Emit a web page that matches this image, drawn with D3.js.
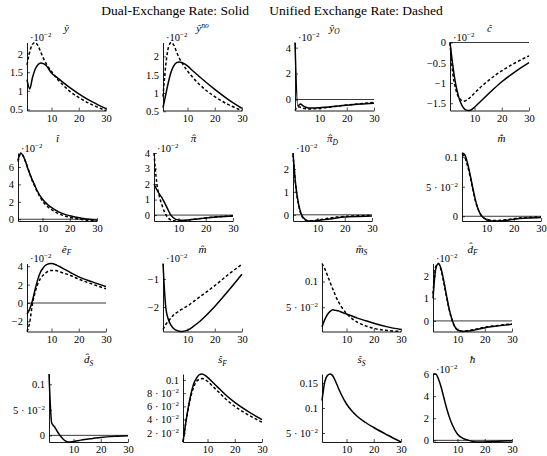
<!DOCTYPE html>
<html><head><meta charset="utf-8">
<script src="https://cdn.jsdelivr.net/npm/d3@7"></script>
<style>
body{margin:0;background:#fff}
</style>
</head><body>
<svg id="chart" width="547" height="456" font-family="'Liberation Serif','Times New Roman','DejaVu Serif',serif"></svg>
<script>
// ---------- data ----------
const periods = [1,2,3,4,5,6,7,8,10,12,14,17,20,25,30];
const xTickValues = [10,20,30];

const yHatSolid   = [1.3,1.05,1.35,1.58,1.70,1.75,1.73,1.68,1.48,1.36,1.24,1.07,0.92,0.70,0.52];
const yHatDashed  = [1.7,2.05,2.25,2.3,2.22,2.05,1.88,1.74,1.52,1.33,1.17,0.97,0.82,0.62,0.47];
const yNoSolid    = [0.6,0.95,1.3,1.58,1.75,1.83,1.85,1.83,1.74,1.6,1.47,1.28,1.1,0.82,0.58];
const yNoDashed   = [0.9,1.75,2.25,2.38,2.3,2.12,1.95,1.82,1.6,1.42,1.26,1.06,0.9,0.68,0.52];
const yOSolid     = [4.4,-0.5,-0.35,-0.5,-0.6,-0.65,-0.66,-0.66,-0.63,-0.6,-0.56,-0.5,-0.44,-0.35,-0.28];
const yODashed    = [-0.85,-0.55,-0.6,-0.68,-0.72,-0.73,-0.73,-0.72,-0.68,-0.63,-0.58,-0.5,-0.43,-0.32,-0.22];
const cSolid      = [0,-0.55,-1.0,-1.3,-1.5,-1.62,-1.67,-1.68,-1.6,-1.47,-1.34,-1.15,-0.97,-0.72,-0.5];
const cDashed     = [0,-0.75,-1.12,-1.33,-1.42,-1.45,-1.43,-1.38,-1.25,-1.12,-1.0,-0.84,-0.7,-0.5,-0.33];

const iSolid      = [6.8,7.6,7.2,6.4,5.5,4.7,4.0,3.3,2.3,1.65,1.2,0.7,0.4,0.1,-0.1];
const iDashed     = [6.6,7.5,7.2,6.4,5.5,4.6,3.9,3.2,2.1,1.4,0.95,0.5,0.22,-0.05,-0.2];
const piSolid     = [2.0,1.65,1.35,1.1,0.75,0.4,0.05,-0.15,-0.32,-0.34,-0.31,-0.25,-0.19,-0.11,-0.06];
const piDashed    = [4.0,2.1,1.2,0.6,0.15,-0.15,-0.3,-0.37,-0.38,-0.34,-0.3,-0.24,-0.18,-0.1,-0.05];
const piDSolid    = [2.7,1.3,0.5,0.05,-0.15,-0.24,-0.27,-0.27,-0.25,-0.22,-0.19,-0.14,-0.1,-0.07,-0.05];
const piDDashed   = [2.65,1.25,0.45,0.0,-0.18,-0.25,-0.27,-0.26,-0.23,-0.19,-0.15,-0.1,-0.07,-0.04,-0.03];
const mDotSolid   = [0.107,0.104,0.09,0.07,0.047,0.026,0.011,0.002,-0.006,-0.008,-0.008,-0.007,-0.005,-0.003,-0.002];
const mDotDashed  = [0.105,0.1,0.086,0.067,0.045,0.025,0.011,0.002,-0.005,-0.007,-0.007,-0.006,-0.004,-0.002,-0.001];

const eFSolid     = [-1.2,-0.65,0.25,1.5,2.6,3.4,3.85,4.15,4.3,4.1,3.8,3.3,2.85,2.3,1.8];
const eFDashed    = [-3.1,-2.1,-0.1,1.2,2.1,2.7,3.05,3.3,3.55,3.5,3.3,3.0,2.6,2.05,1.55];
const mSolid      = [-0.45,-2.0,-2.45,-2.65,-2.77,-2.83,-2.86,-2.87,-2.82,-2.7,-2.55,-2.28,-1.98,-1.42,-0.83];
const mDashed     = [-2.8,-2.62,-2.5,-2.38,-2.27,-2.2,-2.13,-2.07,-1.96,-1.82,-1.67,-1.46,-1.24,-0.84,-0.48];
const mSSolid     = [0.012,0.026,0.036,0.042,0.045,0.044,0.043,0.041,0.037,0.033,0.029,0.024,0.019,0.012,0.007];
const mSDashed    = [0.135,0.125,0.112,0.098,0.085,0.072,0.061,0.052,0.038,0.028,0.021,0.014,0.009,0.005,0.003];
const dFSolid     = [1.0,2.3,2.55,2.3,1.75,1.1,0.5,0.05,-0.4,-0.47,-0.45,-0.38,-0.3,-0.22,-0.15];
const dFDashed    = [1.2,2.4,2.55,2.25,1.68,1.05,0.47,0.03,-0.4,-0.46,-0.43,-0.36,-0.28,-0.2,-0.13];

const dSSolid     = [0.12,0.024,0.017,0.008,0.0,-0.006,-0.011,-0.013,-0.012,-0.01,-0.008,-0.006,-0.004,-0.002,-0.001];
const sFSolid     = [0.006,0.035,0.06,0.08,0.095,0.103,0.108,0.109,0.104,0.096,0.088,0.076,0.066,0.052,0.04];
const sFDashed    = [0.006,0.034,0.058,0.077,0.09,0.098,0.101,0.102,0.098,0.09,0.082,0.07,0.06,0.047,0.036];
const sSSolid     = [0.115,0.152,0.165,0.168,0.164,0.153,0.14,0.128,0.108,0.094,0.083,0.071,0.061,0.046,0.032];
const hSolid      = [6.0,6.0,5.55,4.8,3.85,2.9,2.1,1.45,0.55,0.18,0.0,-0.15,-0.15,-0.08,-0.04];

// tick values and labels
const yHatTicks = [0.5,1,1.5,2],          yHatLabels = ["0.5","1","1.5","2"];
const yOTicks = [0,2,4],                  yOLabels = ["0","2","4"];
const cTicks = [-1.5,-1,-0.5,0],          cLabels = ["\u22121.5","\u22121","\u22120.5","0"];
const iTicks = [0,2,4,6],                 iLabels = ["0","2","4","6"];
const piTicks = [0,1,2,3,4],              piLabels = ["0","1","2","3","4"];
const piDTicks = [0,1,2],                 piDLabels = ["0","1","2"];
const mDotTicks = [0,0.05,0.1],           mDotLabels = ["0","5 \u00b7 10^\u22122","0.1"];
const eFTicks = [-2,0,2,4],               eFLabels = ["\u22122","0","2","4"];
const mTicks = [-2,-1],                   mLabels = ["\u22122","\u22121"];
const mSTicks = [0.05,0.1],               mSLabels = ["5 \u00b7 10^\u22122","0.1"];
const dFTicks = [0,1,2],                  dFLabels = ["0","1","2"];
const dSTicks = [0,0.05,0.1],             dSLabels = ["0","5 \u00b7 10^\u22122","0.1"];
const sFTicks = [0.02,0.04,0.06,0.08,0.1],sFLabels = ["2 \u00b7 10^\u22122","4 \u00b7 10^\u22122","6 \u00b7 10^\u22122","8 \u00b7 10^\u22122","0.1"];
const sSTicks = [0.05,0.1,0.15],          sSLabels = ["5 \u00b7 10^\u22122","0.1","0.15"];
const hTicks = [0,2,4,6],                 hLabels = ["0","2","4","6"];

const mainTitle = "Dual-Exchange Rate: Solid\u2003\u2002Unified Exchange Rate: Dashed";

// ---------- panel definitions ----------
const panels = [
  {t:"\u0177", solid:yHatSolid, dashed:yHatDashed, ticks:yHatTicks, labels:yHatLabels, scaled:true},
  {t:"\u0177", sup:"no", solid:yNoSolid, dashed:yNoDashed, ticks:yHatTicks, labels:yHatLabels, scaled:true},
  {t:"\u0177", sub:"O", solid:yOSolid, dashed:yODashed, ticks:yOTicks, labels:yOLabels, scaled:true},
  {t:"\u0109", solid:cSolid, dashed:cDashed, ticks:cTicks, labels:cLabels, scaled:true},
  {t:"\u00ee", solid:iSolid, dashed:iDashed, ticks:iTicks, labels:iLabels, scaled:true},
  {t:"\u03c0", hat:true, solid:piSolid, dashed:piDashed, ticks:piTicks, labels:piLabels, scaled:true},
  {t:"\u03c0", hat:true, sub:"D", solid:piDSolid, dashed:piDDashed, ticks:piDTicks, labels:piDLabels, scaled:true},
  {t:"m\u0302\u0307", solid:mDotSolid, dashed:mDotDashed, ticks:mDotTicks, labels:mDotLabels, scaled:false},
  {t:"\u00ea", sub:"F", solid:eFSolid, dashed:eFDashed, ticks:eFTicks, labels:eFLabels, scaled:true},
  {t:"m\u0302", solid:mSolid, dashed:mDashed, ticks:mTicks, labels:mLabels, scaled:true},
  {t:"m\u0302", sub:"S", solid:mSSolid, dashed:mSDashed, ticks:mSTicks, labels:mSLabels, scaled:false},
  {t:"d\u0302", sub:"F", solid:dFSolid, dashed:dFDashed, ticks:dFTicks, labels:dFLabels, scaled:true},
  {t:"d\u0302", sub:"S", solid:dSSolid, dashed:null, ticks:dSTicks, labels:dSLabels, scaled:false},
  {t:"\u015d", sub:"F", solid:sFSolid, dashed:sFDashed, ticks:sFTicks, labels:sFLabels, scaled:false},
  {t:"\u015d", sub:"S", solid:sSSolid, dashed:null, ticks:sSTicks, labels:sSLabels, scaled:false},
  {t:"\u0127", solid:hSolid, dashed:null, ticks:hTicks, labels:hLabels, scaled:true}
];

// ---------- layout (axis bottom-left corners) ----------
const rowBottom = [110.5, 221, 331.5, 442];
const colLeft = [
  [27,163,295,450],
  [18,154,293,462],
  [27,163,322,433],
  [49,183,322,433]
];
const W = 79, H = 68;

const svg = d3.select("#chart");

svg.append("text")
  .attr("x", 272).attr("y", 15)
  .attr("text-anchor","middle")
  .attr("font-size", 13.5)
  .text(mainTitle);

function supLabel(sel, str, supSize) {
  const parts = str.split("^");
  sel.text(null);
  sel.append("tspan").text(parts[0]);
  if (parts[1]) sel.append("tspan").attr("dy", -4).attr("font-size", supSize).text(parts[1]);
}

panels.forEach((p, k) => {
  const r = Math.floor(k / 4), c = k % 4;
  const g = svg.append("g").attr("transform", `translate(${colLeft[r][c]},${rowBottom[r] - H})`);
  const x = d3.scaleLinear().domain([1, 30]).range([0, W]);
  const all = p.solid.concat(p.dashed || []);
  const y = d3.scaleLinear().domain(d3.extent(all)).range([H, 0]);
  const [y0, y1] = y.domain();

  if (y0 < 0 && y1 >= 0) {
    g.append("line").attr("x1", 0).attr("x2", W)
      .attr("y1", y(0)).attr("y2", y(0))
      .attr("stroke", "#222").attr("stroke-width", 0.9);
  }

  const line = d3.line().x((d, i) => x(periods[i])).y(d => y(d)).curve(d3.curveMonotoneX);
  if (p.dashed) {
    g.append("path").attr("d", line(p.dashed)).attr("fill", "none")
      .attr("stroke", "#000").attr("stroke-width", 1.5).attr("stroke-dasharray", "3,2.2");
  }
  g.append("path").attr("d", line(p.solid)).attr("fill", "none")
    .attr("stroke", "#000").attr("stroke-width", 1.5);

  const xa = g.append("g").attr("transform", `translate(0,${H})`)
    .call(d3.axisBottom(x).tickValues(xTickValues).tickFormat(d3.format("d"))
      .tickSizeInner(-3).tickSizeOuter(0).tickPadding(4));
  const ya = g.append("g")
    .call(d3.axisLeft(y).tickValues(p.ticks).tickFormat((d, i) => p.labels[i])
      .tickSizeInner(-3).tickSizeOuter(0).tickPadding(4));
  [xa, ya].forEach(a => {
    a.attr("font-family", null).attr("font-size", 10.5);
    a.select(".domain").attr("stroke", "#000").attr("stroke-width", 0.9);
    a.selectAll(".tick line").attr("stroke", "#000").attr("stroke-width", 0.7);
  });
  ya.selectAll(".tick text").each(function(d, i) {
    supLabel(d3.select(this), p.labels[i], 7);
  });

  if (p.scaled) {
    const s = g.append("text").attr("x", 3).attr("y", -1.5).attr("font-size", 10.5);
    s.append("tspan").text("\u00b710");
    s.append("tspan").attr("dy", -4).attr("font-size", 7).text("\u22122");
  }

  const ty = -11;
  const t = g.append("text").attr("x", W / 2).attr("y", ty)
    .attr("text-anchor", "middle").attr("font-size", 11).attr("font-style", "italic");
  t.append("tspan").text(p.t);
  if (p.sup) t.append("tspan").attr("dy", -4).attr("font-size", 7.5).text(p.sup);
  if (p.sub) t.append("tspan").attr("dy", 2.5).attr("font-size", 7.5).text(p.sub);
  if (p.hat) {
    const bb = t.node().getExtentOfChar(0);
    g.append("text").attr("x", bb.x + bb.width / 2 + 0.5).attr("y", ty - 0.5)
      .attr("text-anchor", "middle").attr("font-size", 11).text("\u02c6");
  }
});
</script>
</body></html>
